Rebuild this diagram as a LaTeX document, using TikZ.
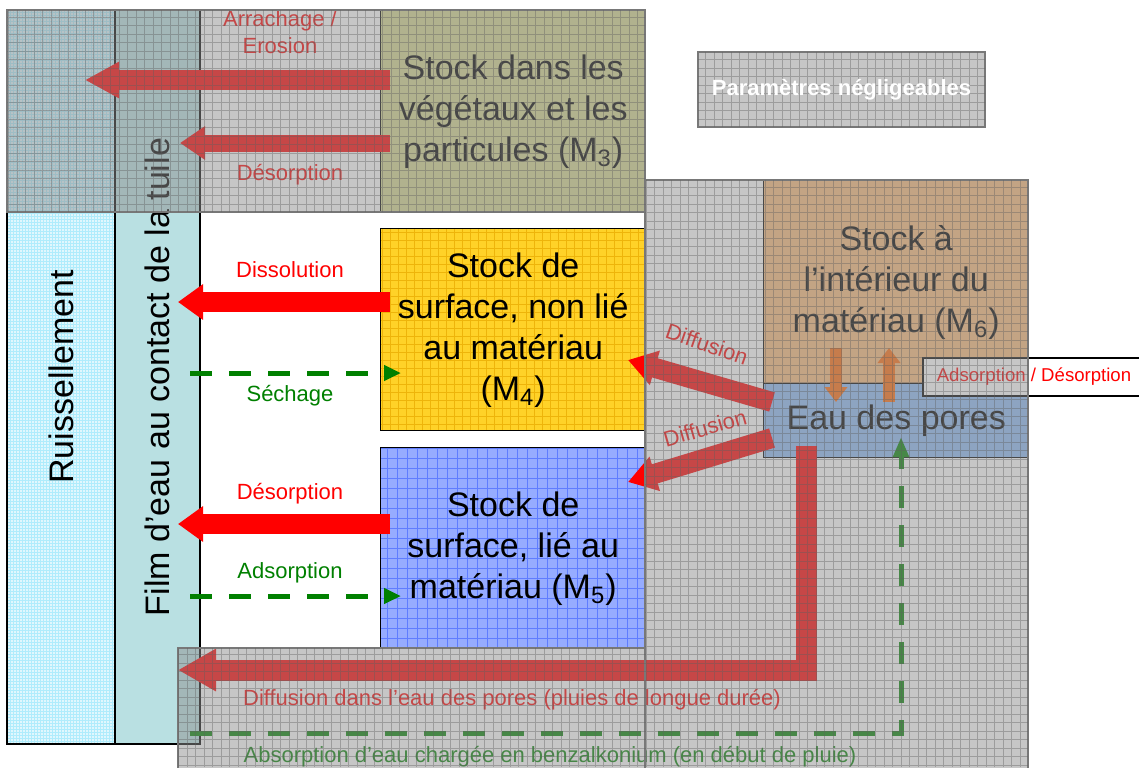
\documentclass[tikz,border=0pt]{standalone}
\usepackage{fontspec}
\setmainfont{Liberation Sans}
\usetikzlibrary{arrows.meta}

\definecolor{redc}{RGB}{255,0,0}
\definecolor{greenc}{RGB}{0,128,0}
\definecolor{orangec}{RGB}{255,105,10}
\definecolor{ruisc}{RGB}{224,247,253}
\definecolor{ruisgrid}{RGB}{175,236,252}
\definecolor{filmc}{RGB}{185,224,226}
\definecolor{olivec}{RGB}{212,214,142}
\definecolor{yellowc}{RGB}{255,210,40}
\definecolor{yellowgrid}{RGB}{238,180,10}
\definecolor{bluec}{RGB}{150,172,255}
\definecolor{bluegrid}{RGB}{95,125,255}
\definecolor{brownc}{RGB}{248,186,122}
\definecolor{poresc}{RGB}{140,186,245}
\definecolor{veilc}{RGB}{143,143,143}
\definecolor{veilline}{RGB}{120,120,120}
\definecolor{gridc}{RGB}{95,95,95}

\newcommand\bigtext{\fontsize{17}{20.5}\selectfont}
\newcommand\smalltext{\fontsize{11}{13.5}\selectfont}
\newcommand\adstext{\fontsize{9.3}{11}\selectfont}

\begin{document}
\begin{tikzpicture}[x=.5pt,y=-.5pt,
  stockbox/.style={draw=black,line width=.7pt,inner sep=0pt,anchor=north west,align=center,font=\bigtext,minimum width=132.5pt},
  colbox/.style={draw=black,line width=.8pt,inner sep=0pt,rotate=90,font=\bigtext,minimum width=367pt},
  flowtext/.style={font=\smalltext,align=center,inner sep=1pt},
  redarrow/.style={draw=redc,line width=10pt},
  greendash/.style={draw=greenc,line width=2.5pt,dash pattern=on 11pt off 8.5pt,-{Triangle[length=8.5pt,width=7.5pt]}},
  orangearrow/.style={draw=orangec,line width=6pt,-{Triangle[length=7.5pt,width=11pt]}},
  veil/.style={fill=veilc,fill opacity=.5,draw=veilline,line width=.8pt},
  veilgrid/.style={draw=gridc,opacity=.4,line width=.35pt},
]
\useasboundingbox[fill=white] (0,0) rectangle (1139,767);

% columns on the left
\node[colbox,fill=ruisc,minimum height=54pt,
  path picture={\draw[ruisgrid,line width=.3pt,step=1.5pt] (path picture bounding box.south west) grid (path picture bounding box.north east);}]
  (ruis) at (61,377) {Ruissellement};
\node[colbox,fill=filmc,minimum height=42.5pt] (film) at (157.5,377) {Film d’eau au contact de la tuile};

% stocks
\node[stockbox,fill=olivec,minimum height=101pt] (m3) at (380,10) {Stock dans les\\végétaux et les\\particules (M\textsubscript{3})};
\node[stockbox,fill=yellowc,minimum height=101pt,
  path picture={\draw[yellowgrid,line width=.35pt,step=4pt] (path picture bounding box.south west) grid (path picture bounding box.north east);}]
  (m4) at (380,228) {Stock de\\surface, non lié\\au matériau\\(M\textsubscript{4})};
\node[stockbox,fill=bluec,minimum height=100.5pt,
  path picture={\draw[bluegrid,line width=.4pt,step=5pt] (path picture bounding box.south west) grid (path picture bounding box.north east);}]
  (m5) at (380,447) {Stock de\\surface, lié au\\matériau (M\textsubscript{5})};
\node[stockbox,fill=brownc,minimum height=101.5pt] (m6) at (763,180) {Stock à\\l’intérieur du\\matériau (M\textsubscript{6})};
\node[stockbox,fill=poresc,minimum height=37pt] (pores) at (763,383) {Eau des pores};
\node[draw=black,line width=.8pt,fill=white,anchor=north west,inner sep=0pt,minimum width=112pt,minimum height=19pt] (adsbox) at (922,357) {};
\node[flowtext,font=\adstext,text=redc] (adslab) at (1034,377) {Adsorption / Désorption};

% end points of the flows
\coordinate (arrach-s) at (390,80);  \coordinate (arrach-e) at (85,80);
\coordinate (desthree-s) at (390,143); \coordinate (desthree-e) at (180,143);
\coordinate (dissol-s) at (390,302); \coordinate (dissol-e) at (178,302);
\coordinate (sech-s) at (190,373);   \coordinate (sech-e) at (401,373);
\coordinate (desfive-s) at (390,524); \coordinate (desfive-e) at (178,524);
\coordinate (adsfive-s) at (190,596); \coordinate (adsfive-e) at (401,596);
\coordinate (difup-s) at (772,402);  \coordinate (difup-e) at (628,360);
\coordinate (difdown-s) at (772,438); \coordinate (difdown-e) at (628,482);
\coordinate (long-s) at (806,446);   \coordinate (long-c) at (806,670); \coordinate (long-e) at (178,670);
\coordinate (absb-s) at (190,733);   \coordinate (absb-c) at (901,733); \coordinate (absb-e) at (901,437);
\coordinate (sorpin-s) at (836,348); \coordinate (sorpin-e) at (836,402);
\coordinate (sorpout-s) at (889,402); \coordinate (sorpout-e) at (889,348);

% flows
\draw[redarrow,-{Triangle[length=17pt,width=17pt]}] (arrach-s) -- (arrach-e);
\draw[redarrow,line width=8.5pt,-{Triangle[length=12.5pt,width=16pt]}] (desthree-s) -- (desthree-e);
\draw[redarrow,-{Triangle[length=12.5pt,width=17pt]}] (dissol-s) -- (dissol-e);
\draw[redarrow,-{Triangle[length=12.5pt,width=17pt]}] (desfive-s) -- (desfive-e);
\draw[greendash] (sech-s) -- (sech-e);
\draw[greendash] (adsfive-s) -- (adsfive-e);
\draw[redarrow,-{Triangle[length=14pt,width=17pt]}] (difup-s) -- (difup-e);
\draw[redarrow,-{Triangle[length=14pt,width=17pt]}] (difdown-s) -- (difdown-e);
\draw[redarrow,line width=10.5pt,miter limit=4,-{Triangle[length=19pt,width=20pt]}] (long-s) -- (long-c) -- (long-e);
\draw[greendash,-{Triangle[length=10pt,width=7.5pt]}] (absb-s) -- (absb-c) -- (absb-e);
\draw[orangearrow] (sorpin-s) -- (sorpin-e);
\draw[orangearrow] (sorpout-s) -- (sorpout-e);

% labels of the flows
\node[flowtext,text=redc] (arrach-lab) at (280,32) {Arrachage /\\Erosion};
\node[flowtext,text=redc] (desthree-lab) at (290,175) {Désorption};
\node[flowtext,text=redc] (dissol-lab) at (290,270) {Dissolution};
\node[flowtext,text=greenc] (sech-lab) at (290,396) {Séchage};
\node[flowtext,text=redc] (desfive-lab) at (290,494) {Désorption};
\node[flowtext,text=greenc] (adsfive-lab) at (290,573) {Adsorption};
\node[flowtext,text=redc,rotate=-19] (difup-lab) at (707,344) {Diffusion};
\node[flowtext,text=redc,rotate=16] (difdown-lab) at (705,428) {Diffusion};
\node[flowtext,text=redc] (long-lab) at (512,700) {Diffusion dans l’eau des pores (pluies de longue durée)};
\node[flowtext,text=greenc] (absb-lab) at (550,757) {Absorption d’eau chargée en benzalkonium (en début de pluie)};

% negligible parameters
\path[veil] (7,10) rectangle (645,212);
\path[veil] (645,180) rectangle (1028,770);
\path[veil] (178,648) rectangle (645,770);
\path[veil] (698,52) rectangle (985,127);
\begin{scope}
  \clip (7,10) rectangle (645,212) (645,180) rectangle (1028,770) (178,648) rectangle (645,770) (698,52) rectangle (985,127);
  \draw[veilgrid,step=4.25pt] (0,0) grid (1139,767);
\end{scope}
\node[font=\smalltext\bfseries,text=white] (legend) at (841.5,89.5) {Paramètres négligeables};
\end{tikzpicture}
\end{document}
